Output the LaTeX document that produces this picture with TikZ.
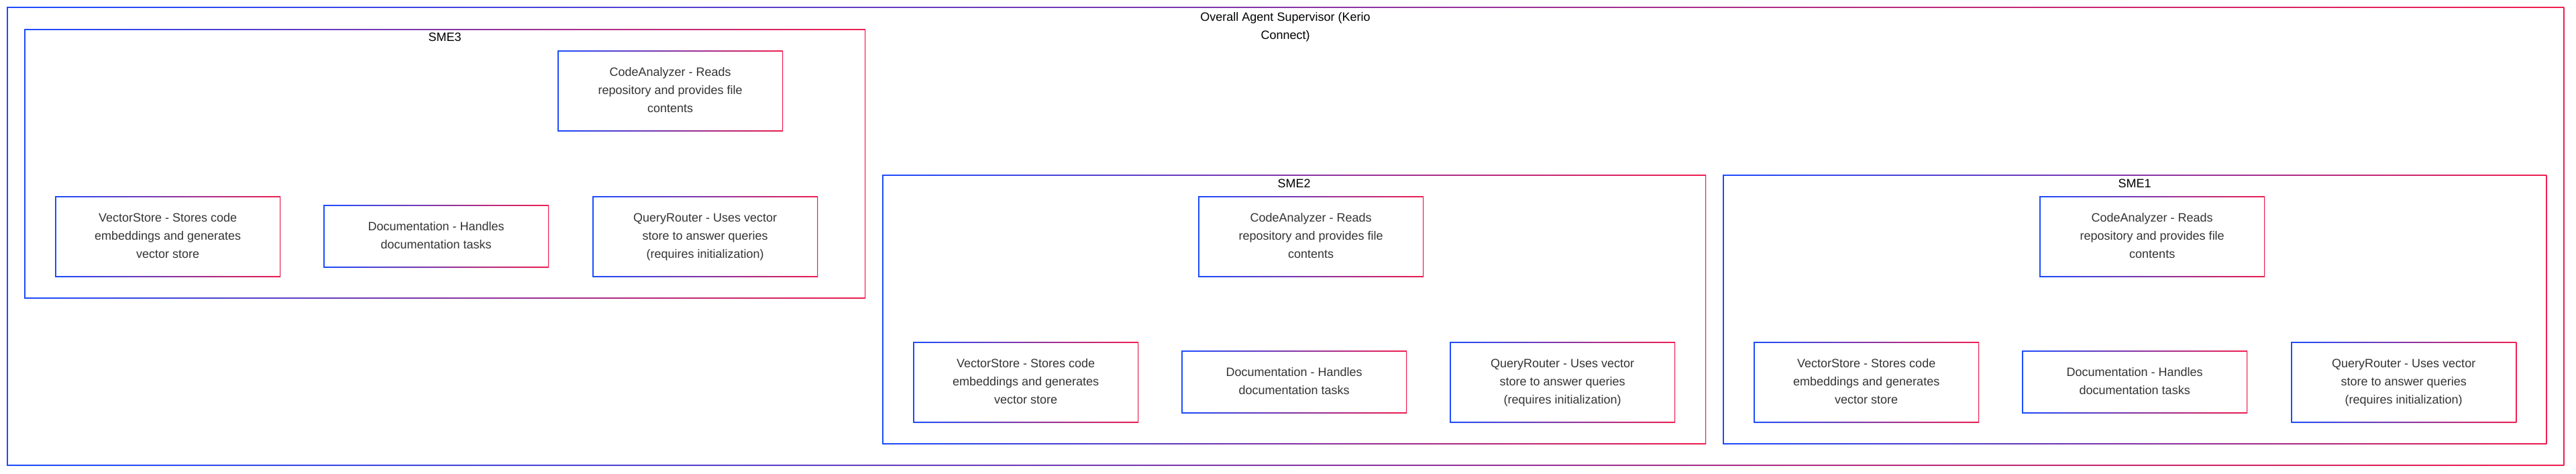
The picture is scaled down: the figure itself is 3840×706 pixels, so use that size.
\documentclass[tikz,border=0pt]{standalone}
\usepackage{fontspec}
\setmainfont{Liberation Sans}
\usetikzlibrary{shadows}
\definecolor{gblue}{RGB}{28,76,255}
\definecolor{gred}{RGB}{240,30,80}
\definecolor{txtgray}{RGB}{51,51,51}
\tikzset{
  gframe/.style={fill=white, inner sep=0pt, anchor=north west,
    drop shadow={opacity=0.10, shadow xshift=1pt, shadow yshift=-2pt},
    path picture={
      \shade[left color=gblue, right color=gred]
        (path picture bounding box.south west) rectangle (path picture bounding box.north east);
      \fill[white]
        ([shift={(1.4pt,1.4pt)}]path picture bounding box.south west) rectangle
        ([shift={(-1.4pt,-1.4pt)}]path picture bounding box.north east);
    }},
  container/.style={gframe, minimum height=401pt},
  agent/.style={gframe, minimum width=336pt, text=txtgray, align=center,
    font=\fontsize{18}{27}\selectfont},
  tall/.style={agent, minimum height=120pt},
  short/.style={agent, minimum height=93pt},
  lbl/.style={inner sep=0pt, anchor=base, text=black, font=\fontsize{18}{27}\selectfont},
}
\newcommand{\txtCA}{\strut CodeAnalyzer - Reads\\\strut repository and provides file\\\strut contents}
\newcommand{\txtVS}{\strut VectorStore - Stores code\\\strut embeddings and generates\\\strut vector store}
\newcommand{\txtDoc}{\strut Documentation - Handles\\\strut documentation tasks}
\newcommand{\txtQR}{\strut QueryRouter - Uses vector\\\strut store to answer queries\\\strut (requires initialization)}
\begin{document}
\begin{tikzpicture}[x=1pt, y=-1pt]
\useasboundingbox (0,0) rectangle (3840,706);

% overall supervisor
\node[gframe, minimum width=3812pt, minimum height=683pt] (sup) at (10,10) {};
\node[inner sep=0pt, anchor=north, align=center, text=black, font=\fontsize{18}{27}\selectfont]
  (suplabel) at (1916,12) {\strut Overall Agent Supervisor (Kerio\\\strut Connect)};

% SME3
\node[container, minimum width=1254pt] (sme3) at (36,43) {};
\node[lbl] (sme3label) at (663,62) {SME3};
\node[tall]  (ca3) at (831,75)  {\txtCA};
\node[tall]  (vs3) at (82,292)  {\txtVS};
\node[short] (doc3) at (482,305) {\txtDoc};
\node[tall]  (qr3) at (883,292) {\txtQR};

% SME2
\node[container, minimum width=1228pt] (sme2) at (1315,260) {};
\node[lbl] (sme2label) at (1929,279) {SME2};
\node[tall]  (ca2) at (1786,292) {\txtCA};
\node[tall]  (vs2) at (1361,509) {\txtVS};
\node[short] (doc2) at (1761,522) {\txtDoc};
\node[tall]  (qr2) at (2161,509) {\txtQR};

% SME1
\node[container, minimum width=1228pt] (sme1) at (2568,260) {};
\node[lbl] (sme1label) at (3182,279) {SME1};
\node[tall]  (ca1) at (3040,292) {\txtCA};
\node[tall]  (vs1) at (2614,509) {\txtVS};
\node[short] (doc1) at (3014,522) {\txtDoc};
\node[tall]  (qr1) at (3415,509) {\txtQR};
\end{tikzpicture}
\end{document}
